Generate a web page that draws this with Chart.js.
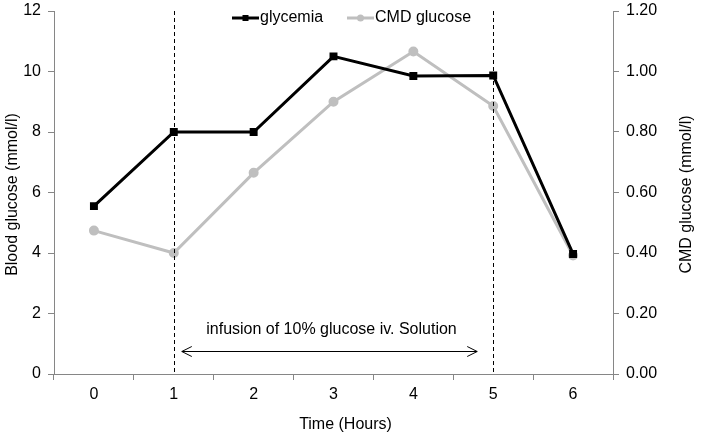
<!DOCTYPE html>
<html>
<head>
<meta charset="utf-8">
<script src="https://cdn.jsdelivr.net/npm/chart.js@4"></script>
<style>
html,body{margin:0;padding:0;background:#fff;}
#wrap{width:702px;height:442px;position:relative;}
</style>
</head>
<body>
<div id="wrap"><canvas id="c" width="702" height="442"></canvas></div>
<script>
const hours = ['0','1','2','3','4','5','6'];
const glycemia = [5.55, 8.0, 8.0, 10.5, 9.85, 9.87, 3.97];
const cmdGlucose = [0.474, 0.40, 0.665, 0.90, 1.066, 0.886, 0.392];
const leftTicks = [0, 2, 4, 6, 8, 10, 12];
const rightTicks = [0, 0.2, 0.4, 0.6, 0.8, 1.0, 1.2];
const infusionStart = 1, infusionEnd = 5;
const infusionLabel = 'infusion of 10% glucose iv. Solution';
const xTitle = 'Time (Hours)';
const yTitle = 'Blood glucose (mmol/l)';
const y2Title = 'CMD glucose (mmol/l)';

const FONT = "'Liberation Sans', Arial, sans-serif";
const AXIS = '#868686';

const overlay = {
  id: 'overlay',
  afterDatasetsDraw(chart) {
    const ctx = chart.ctx, x = chart.scales.x, a = chart.chartArea;
    ctx.save();
    // dashed vertical lines
    ctx.strokeStyle = '#000'; ctx.lineWidth = 1; ctx.setLineDash([4, 3]);
    [infusionStart, infusionEnd].forEach(v => {
      const px = Math.round(x.getPixelForValue(v)) + 0.5;
      ctx.beginPath(); ctx.moveTo(px, a.top); ctx.lineTo(px, a.bottom); ctx.stroke();
    });
    ctx.setLineDash([]);
    // arrow
    const x1 = x.getPixelForValue(infusionStart) + 8;
    const x2 = x.getPixelForValue(infusionEnd) - 16;
    const y = a.bottom - 22.5;
    ctx.beginPath(); ctx.moveTo(x1, y); ctx.lineTo(x2, y);
    ctx.moveTo(x1 + 10, y - 5); ctx.lineTo(x1, y); ctx.lineTo(x1 + 10, y + 5);
    ctx.moveTo(x2 - 10, y - 5); ctx.lineTo(x2, y); ctx.lineTo(x2 - 10, y + 5);
    ctx.stroke();
    ctx.fillStyle = '#000'; ctx.font = '16px ' + FONT;
    ctx.textAlign = 'center'; ctx.textBaseline = 'middle';
    ctx.fillText(infusionLabel, (x1 + x2) / 2 + 2, y - 22);
    // axis titles
    const midY = (a.top + a.bottom) / 2 + 2;
    ctx.fillText(xTitle, (a.left + a.right) / 2 + 12, 425);
    ctx.save(); ctx.translate(13, midY); ctx.rotate(-Math.PI / 2); ctx.fillText(yTitle, 0, 0); ctx.restore();
    ctx.save(); ctx.translate(687, midY); ctx.rotate(-Math.PI / 2); ctx.fillText(y2Title, 0, 0); ctx.restore();
    // legend
    const items = [
      {label: chart.data.datasets[0].label, color: '#000', style: 'rect', lx: 232},
      {label: chart.data.datasets[1].label, color: '#BFBFBF', style: 'circle', lx: 347}
    ];
    const ly = 18;
    items.forEach(it => {
      ctx.strokeStyle = it.color; ctx.lineWidth = 3;
      ctx.beginPath(); ctx.moveTo(it.lx, ly); ctx.lineTo(it.lx + 27, ly); ctx.stroke();
      ctx.fillStyle = it.color;
      const cx = it.lx + 13.5;
      if (it.style === 'rect') ctx.fillRect(cx - 3, ly - 3, 6, 6);
      else { ctx.beginPath(); ctx.arc(cx, ly, 3.5, 0, Math.PI * 2); ctx.fill(); }
      ctx.fillStyle = '#000'; ctx.font = '16px ' + FONT;
      ctx.textAlign = 'left'; ctx.textBaseline = 'middle';
      ctx.fillText(it.label, it.lx + 28, ly);
    });
    ctx.restore();
  }
};

new Chart(document.getElementById('c'), {
  type: 'line',
  data: {
    labels: hours,
    datasets: [
      {label: 'glycemia', data: glycemia, yAxisID: 'y', borderColor: '#000', backgroundColor: '#000',
       borderWidth: 3, pointStyle: 'rect', pointRadius: 3.5, pointHoverRadius: 3.5, tension: 0, order: 1},
      {label: 'CMD glucose', data: cmdGlucose, yAxisID: 'y2', borderColor: '#BFBFBF', backgroundColor: '#BFBFBF',
       borderWidth: 3, pointStyle: 'circle', pointRadius: 3.5, pointHoverRadius: 3.5, tension: 0, order: 2}
    ]
  },
  options: {
    responsive: false, animation: false,
    layout: {padding: {top: 11, left: 0, right: 0, bottom: 0}},
    plugins: {legend: {display: false}, tooltip: {enabled: false}},
    scales: {
      x: {
        offset: true,
        grid: {offset: true, drawOnChartArea: false, color: AXIS, tickColor: AXIS, tickLength: 6},
        border: {color: AXIS, width: 1},
        ticks: {color: '#000', font: {family: FONT, size: 16}, padding: 5},
        afterFit: s => { s.height = 68; s.paddingLeft = 0; s.paddingRight = 0; }
      },
      y: {
        position: 'left', min: 0, max: 12,
        afterBuildTicks: s => { s.ticks = leftTicks.map(v => ({value: v})); },
        grid: {drawOnChartArea: false, color: AXIS, tickColor: AXIS, tickLength: 6},
        border: {color: AXIS, width: 1},
        ticks: {color: '#000', font: {family: FONT, size: 16}, padding: 7},
        afterFit: s => { s.width = 54; s.paddingTop = 0; s.paddingBottom = 0; }
      },
      y2: {
        position: 'right', min: 0, max: 1.2,
        afterBuildTicks: s => { s.ticks = rightTicks.map(v => ({value: v})); },
        grid: {drawOnChartArea: false, color: AXIS, tickColor: AXIS, tickLength: 6},
        border: {color: AXIS, width: 1},
        ticks: {color: '#000', font: {family: FONT, size: 16}, padding: 7, callback: v => Number(v).toFixed(2)},
        afterFit: s => { s.width = 89; s.paddingTop = 0; s.paddingBottom = 0; }
      }
    }
  },
  plugins: [overlay]
});
</script>
</body>
</html>
